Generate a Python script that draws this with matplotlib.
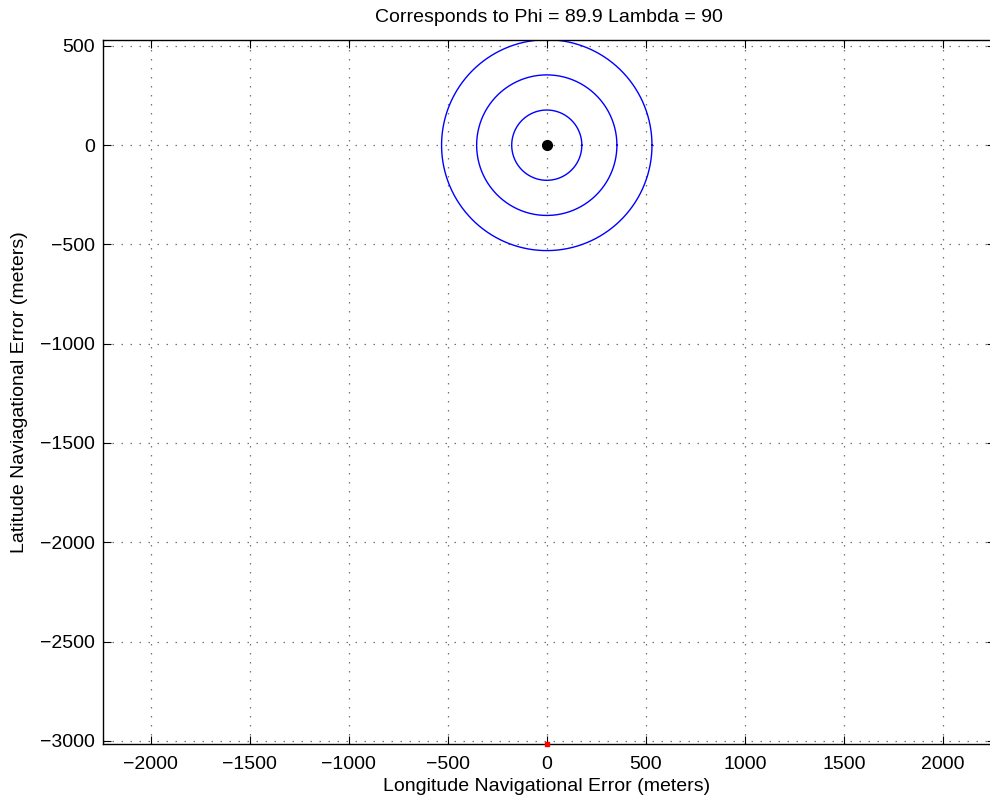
import numpy as np
import matplotlib
matplotlib.use('Agg')
import matplotlib.pyplot as plt

plt.rcParams['font.family'] = ['Liberation Sans', 'DejaVu Sans']

# error ellipse radii (1, 2, 3 sigma), meters
radii = [177, 354, 531]
center = (0, 0)
red_pt = (0, -3016)

xticks = [-2000, -1500, -1000, -500, 0, 500, 1000, 1500, 2000]
yticks = [500, 0, -500, -1000, -1500, -2000, -2500, -3000]

fig = plt.figure(figsize=(9.9, 7.98), dpi=100)
ax = fig.add_axes([0.104, 0.0677, 0.901, 0.882])

t = np.linspace(0, 2 * np.pi, 400)
for r in radii:
    ax.plot(center[0] + r * np.cos(t), center[1] + r * np.sin(t), color='blue', lw=1.0)

ax.plot(center[0], center[1], 'o', color='black', ms=7)
ax.plot(red_pt[0], red_pt[1], 's', color='red', ms=2.5, mec='red', clip_on=False, zorder=5)

ax.set_xlim(-2240, 2262)
ax.set_ylim(-3016, 529)
ax.set_xticks(xticks)
ax.set_yticks(yticks)
ax.grid(True, color='0.45', linestyle=(0, (1.2, 6)), lw=0.9)
ax.tick_params(direction='in', length=6, top=True, right=True, labelsize=14)
ax.tick_params(axis='x', pad=9)
ax.tick_params(axis='y', pad=6)
for s in ax.spines.values():
    s.set_linewidth(1.0)

ax.set_title('Corresponds to Phi = 89.9 Lambda = 90', fontsize=14, pad=13)
ax.set_xlabel('Longitude Navigational Error (meters)', fontsize=14, va='center')
ax.set_ylabel('Latitude Naviagational Error (meters)', fontsize=14, va='center')
ax.xaxis.set_label_coords((547 - 103) / (0.901 * 990), -0.061)
ax.yaxis.set_label_coords(-0.094, 0.5)

fig.savefig('out.png', dpi=100)
